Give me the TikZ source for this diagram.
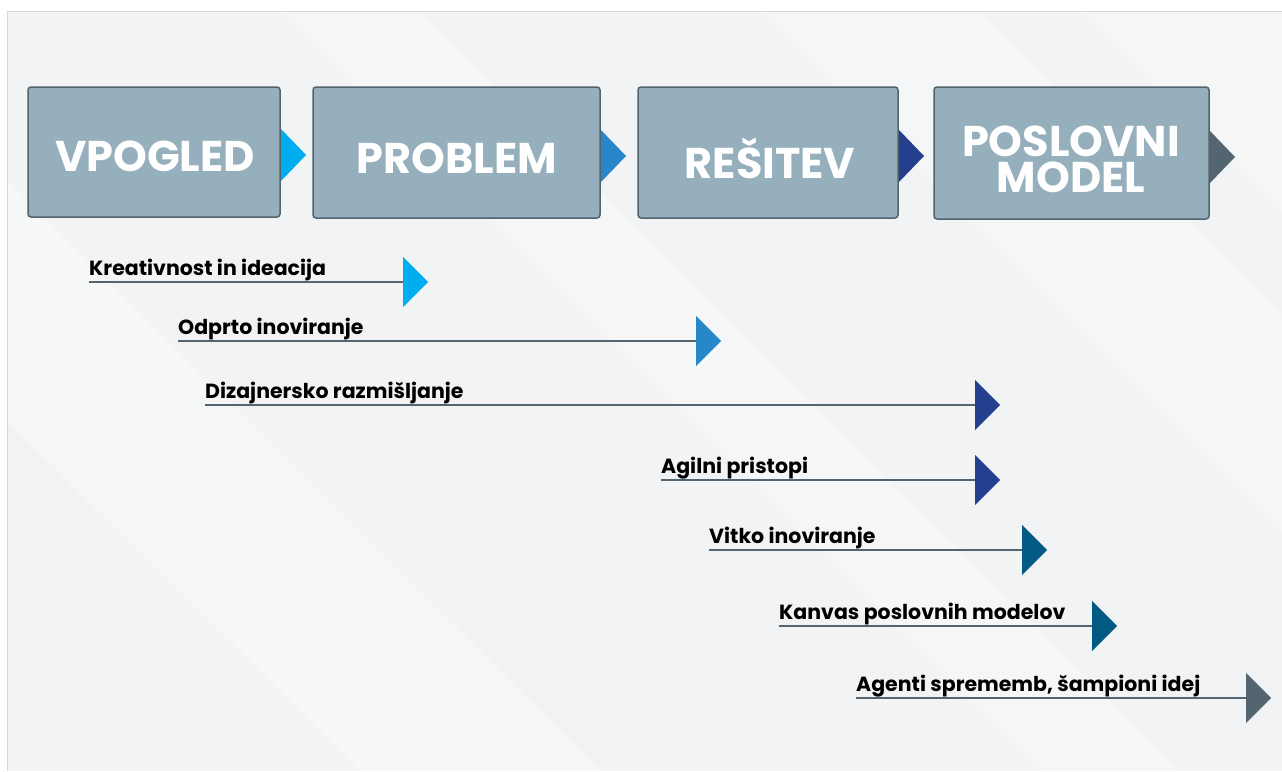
\documentclass[tikz,border=0pt]{standalone}
\usepackage{fontspec}
\setmainfont{Poppins}
\usepackage{tikz}
\definecolor{bgc}{HTML}{F2F3F4}
\definecolor{boxfill}{HTML}{95AFBD}
\definecolor{boxline}{HTML}{52636D}
\definecolor{cA}{HTML}{00AEEF}
\definecolor{cB}{HTML}{2887C8}
\definecolor{cC}{HTML}{243F8E}
\definecolor{cD}{HTML}{005A84}
\definecolor{cE}{HTML}{536570}
\definecolor{frame}{HTML}{D4D6D8}
\tikzset{
  stage/.style={draw=boxline, fill=boxfill, line width=1.5pt, rounded corners=3pt},
  stagetext/.style={text=white, font=\bfseries\fontsize{43}{36}\selectfont, align=center, inner sep=0pt},
  lbl/.style={font=\bfseries\fontsize{20.5}{22}\selectfont, anchor=base west, inner sep=0pt, text=black},
  rule/.style={draw=cE, line width=2pt},
}
\begin{document}
\begin{tikzpicture}[x=1pt,y=-1pt]
\useasboundingbox (0,0) rectangle (1282,771);
\fill[white] (0,0) rectangle (1282,771);
\fill[bgc] (7,11) rectangle (1282,771);
\begin{scope}
\clip (7,11) rectangle (1282,771);
\fill[white,opacity=0.35] (7,180) -- (7,420) -- (360,771) -- (600,771) -- cycle;
\fill[white,opacity=0.25] (280,11) -- (420,11) -- (1180,771) -- (1040,771) -- cycle;
\fill[white,opacity=0.3] (760,11) -- (980,11) -- (1282,313) -- (1282,533) -- cycle;
\fill[white,opacity=0.25] (1080,11) -- (1282,11) -- (1282,213) -- cycle;
\end{scope}
\draw[frame, line width=1pt] (7,771) -- (7,11) -- (1282,11);

% stages
\draw[stage] (28,87) rectangle (280,217);
\draw[stage] (313,87) rectangle (600,218);
\draw[stage] (638,87) rectangle (898,218);
\draw[stage] (934,87) rectangle (1209,219);
\fill[cA] (281,129) -- (306,155) -- (281,181) -- cycle;
\fill[cB] (601,130) -- (626,156) -- (601,182) -- cycle;
\fill[cC] (899,130) -- (924,156) -- (899,182) -- cycle;
\fill[cE] (1210,131) -- (1235,157) -- (1210,183) -- cycle;
\node[stagetext] (s1) at (155,156) {VPOGLED};
\node[stagetext] (s2) at (457,158) {PROBLEM};
\node[stagetext] (s3) at (770,158) {REŠITEV};
\node[stagetext] (s4) at (1071,159) {POSLOVNI\\MODEL};

% timelines
\newcommand{\tline}[6]{% startx, y, endx, color, name, text
  \coordinate (#5s) at (#1,#2);
  \coordinate (#5e) at (#3,#2);
  \node[lbl] (#5t) at (#1,#2-7) {#6};
  \draw[rule] (#5s) -- (#5e);
  \fill[#4] (#3,#2-25) -- (#3+25,#2) -- (#3,#2+25) -- cycle;
}
\tline{89}{282}{403}{cA}{a}{Kreativnost in ideacija}
\tline{178}{341}{696}{cB}{b}{Odprto inoviranje}
\tline{205}{405}{975}{cC}{c}{Dizajnersko razmišljanje}
\tline{661}{480}{975}{cC}{d}{Agilni pristopi}
\tline{709}{550}{1022}{cD}{e}{Vitko inoviranje}
\tline{779}{626}{1092}{cD}{f}{Kanvas poslovnih modelov}
\tline{856}{698}{1246}{cE}{g}{Agenti sprememb, šampioni idej}
\end{tikzpicture}
\end{document}
